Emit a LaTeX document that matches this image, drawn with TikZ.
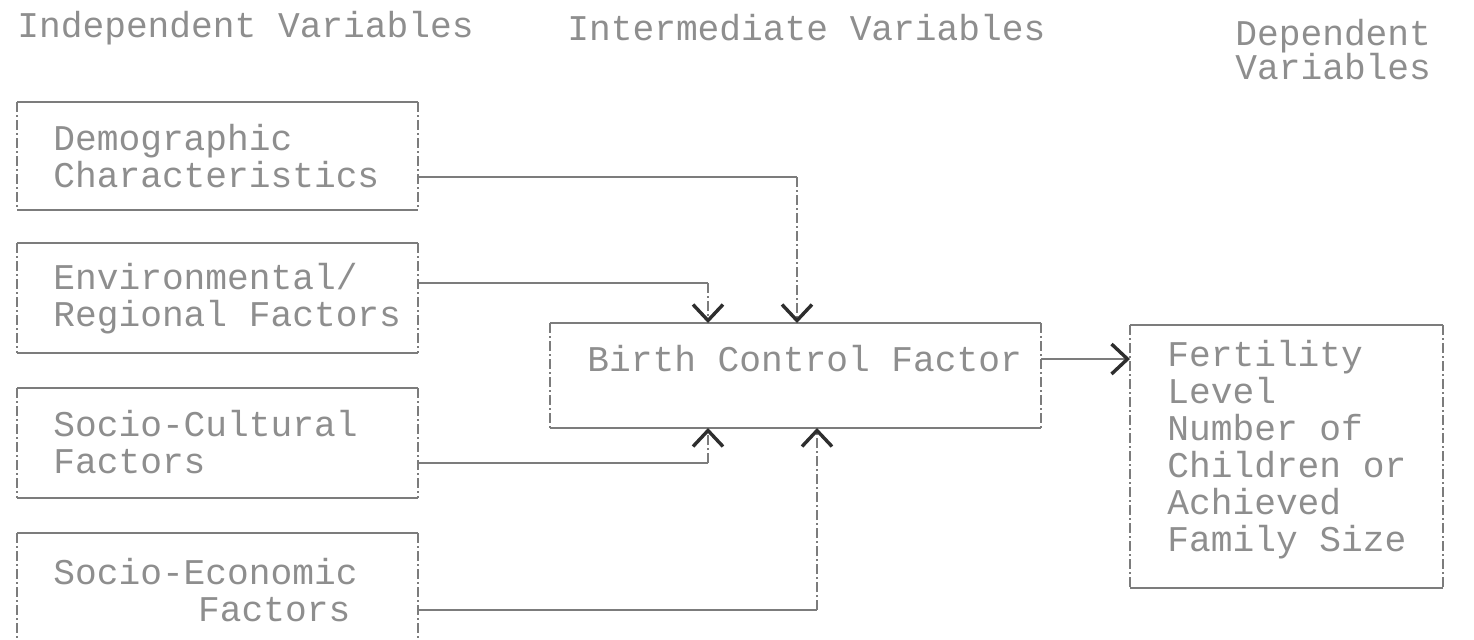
\documentclass[tikz,border=0pt]{standalone}
\usepackage{fontspec}
\newfontfamily\tw{Liberation Mono}
\usetikzlibrary{arrows.meta}
\definecolor{ink}{HTML}{8E8E8E}
\definecolor{rule}{HTML}{7C7C7C}
\definecolor{tipc}{HTML}{2E2E2E}
% two-line heading with a slightly tighter line pitch
\newcommand\headfont{\tw\fontsize{18.1pt}{17pt}\selectfont
  \lineskiplimit=-20pt\relax\lineskip=0pt\relax}
\tikzset{
  frame/.style={inner sep=0pt, outer sep=0pt},
  lbl/.style={inner sep=0pt, anchor=west, align=left, text=ink,
    font=\tw\fontsize{18.1pt}{18.5pt}\selectfont},
  head/.style={lbl, font=\headfont},
  hline/.style={draw=rule, line width=1pt},
  vline/.style={draw=rule, line width=1pt, dash pattern=on 5pt off 1.5pt on 1pt off 1.5pt},
  tip/.style={-{Straight Barb[length=8pt,width=15pt,line width=1.7pt,color=tipc]}}
}
\begin{document}
\begin{tikzpicture}[x=0.5pt,y=-0.5pt]
  \fill[white] (0,0) rectangle (1474,639);
  \clip (0,0) rectangle (1474,639);

  % column headings
  \node[head] (hind) at (17,28) {Independent Variables};
  \node[head] (hint) at (567,28) {Intermediate Variables};
  \node[head] (hdep) at (1235,50) {Dependent\\Variables};

  % frames
  \node[frame, minimum width=200.5pt, minimum height=54pt]   (demo) at (217.5,156) {};
  \node[frame, minimum width=200.5pt, minimum height=55pt]   (env)  at (217.5,298) {};
  \node[frame, minimum width=200.5pt, minimum height=55pt]   (cult) at (217.5,443) {};
  \node[frame, minimum width=200.5pt, minimum height=55pt]   (econ) at (217.5,588) {};
  \node[frame, minimum width=245.5pt, minimum height=52.5pt] (bc)   at (795.5,375.5) {};
  \node[frame, minimum width=156.5pt, minimum height=131.5pt] (fert) at (1286.5,456.5) {};

  \foreach \n in {demo,env,cult,econ,bc,fert}{
    \draw[hline] (\n.north west) -- (\n.north east) (\n.south west) -- (\n.south east);
    \draw[vline] (\n.north west) -- (\n.south west) (\n.north east) -- (\n.south east);
  }

  % frame texts
  \node[lbl] (tdemo) at (53,156.5) {Demographic\\Characteristics};
  \node[lbl] (tenv)  at (53,298.5) {Environmental/\\Regional Factors};
  \node[lbl] (tcult) at (53,442)   {Socio-Cultural\\Factors};
  \node[lbl] (tecon) at (53,590)   {Socio-Economic\\\hspace*{4em}Factors};
  \node[lbl] (tbc)   at (587,359)  {Birth Control Factor};
  \node[lbl] (tfert) at (1167,449.5) {Fertility\\Level\\Number of\\Children or\\Achieved\\Family Size};

  % bends of the connectors
  \coordinate (dturn) at (797,177);
  \coordinate (eturn) at (708,283);
  \coordinate (cturn) at (708,463);
  \coordinate (sturn) at (817,610);

  \draw[hline] (demo.east |- dturn) -- (dturn);
  \draw[vline,tip] (dturn) -- (dturn |- bc.north);
  \draw[hline] (env.east |- eturn) -- (eturn);
  \draw[vline,tip] (eturn) -- (eturn |- bc.north);
  \draw[hline] (cult.east |- cturn) -- (cturn);
  \draw[vline,tip] (cturn) -- (cturn |- bc.south);
  \draw[hline] (econ.east |- sturn) -- (sturn);
  \draw[vline,tip] (sturn) -- (sturn |- bc.south);

  \draw[hline,tip] (bc.east |- tbc) -- (fert.west |- tbc);
\end{tikzpicture}
\end{document}
